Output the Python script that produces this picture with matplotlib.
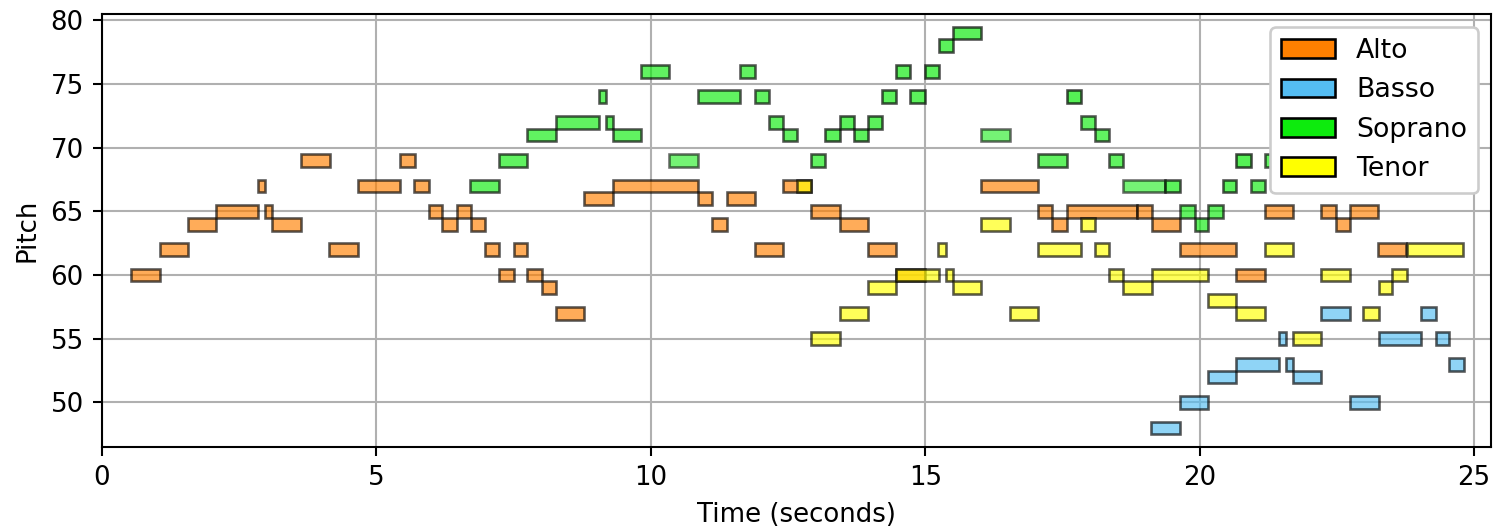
import matplotlib
matplotlib.use("Agg")
import matplotlib.pyplot as plt
import matplotlib.patches as patches

# ---------------- data (start, end in seconds; MIDI pitch; velocity->alpha) -------------
alto_start = [0.52, 1.05, 1.57, 2.07, 2.85, 2.97, 3.10, 3.63, 4.14, 4.66, 5.43, 5.69, 5.95,
              6.20, 6.46, 6.72, 6.98, 7.24, 7.50, 7.75, 8.01, 8.27, 8.79, 9.31, 10.86, 11.11,
              11.38, 11.89, 12.41, 12.92, 13.44, 13.95, 14.47, 16.02, 17.05, 17.31, 17.58,
              18.86, 19.13, 19.64, 20.66, 21.19, 22.21, 22.48, 22.74, 23.25]
alto_end = [1.05, 1.57, 2.07, 2.85, 2.97, 3.10, 3.63, 4.15, 4.66, 5.43, 5.70, 5.95, 6.20,
            6.46, 6.72, 6.98, 7.24, 7.50, 7.75, 8.01, 8.27, 8.79, 9.31, 10.86, 11.11, 11.38,
            11.89, 12.41, 12.92, 13.44, 13.95, 14.47, 14.99, 17.05, 17.31, 17.58, 18.86,
            19.13, 19.64, 20.66, 21.19, 21.71, 22.48, 22.74, 23.25, 23.76]
alto_pitch = [60, 62, 64, 65, 67, 65, 64, 69, 62, 67, 69, 67, 65,
              64, 65, 64, 62, 60, 62, 60, 59, 57, 66, 67, 66, 64,
              66, 62, 67, 65, 64, 62, 60, 67, 65, 64, 65,
              65, 64, 62, 60, 65, 65, 64, 65, 62]
alto_vel = [0.65] * len(alto_start)

basso_start = [19.12, 19.64, 20.16, 20.66, 21.45, 21.58, 21.71, 22.22, 22.74, 23.26, 24.04,
               24.30, 24.55]
basso_end = [19.64, 20.16, 20.66, 21.45, 21.58, 21.71, 22.22, 22.74, 23.26, 24.04, 24.30,
             24.55, 24.81]
basso_pitch = [48, 50, 52, 53, 55, 53, 52, 57, 50, 55, 57, 55, 53]
basso_vel = [0.65] * len(basso_start)

soprano_start = [6.71, 7.24, 7.75, 8.27, 9.05, 9.18, 9.31, 9.82, 10.34, 10.86, 11.63, 11.89,
                 12.15, 12.41, 12.91, 13.17, 13.44, 13.70, 13.95, 14.21, 14.47, 14.73, 14.99,
                 15.25, 15.51, 16.02, 17.05, 17.58, 17.84, 18.09, 18.35, 18.61, 19.37, 19.64,
                 19.91, 20.16, 20.42, 20.67, 20.94, 21.20]
soprano_end = [7.24, 7.75, 8.27, 9.05, 9.18, 9.31, 9.82, 10.34, 10.86, 11.63, 11.89, 12.15,
               12.41, 12.67, 13.17, 13.44, 13.70, 13.95, 14.21, 14.47, 14.73, 14.99, 15.25,
               15.51, 16.02, 16.55, 17.58, 17.84, 18.09, 18.35, 18.61, 19.37, 19.64, 19.91,
               20.16, 20.42, 20.67, 20.94, 21.20, 21.71]
soprano_pitch = [67, 69, 71, 72, 74, 72, 71, 76, 69, 74, 76, 74,
                 72, 71, 69, 71, 72, 71, 72, 74, 76, 74, 76,
                 78, 79, 71, 69, 74, 72, 71, 69, 67, 67, 65,
                 64, 65, 67, 69, 67, 69]
soprano_vel = [0.65, 0.65, 0.65, 0.65, 0.65, 0.65, 0.65, 0.65, 0.57, 0.65, 0.65, 0.65,
               0.65, 0.65, 0.65, 0.68, 0.68, 0.68, 0.68, 0.68, 0.68, 0.68, 0.68,
               0.68, 0.68, 0.57, 0.65, 0.7, 0.65, 0.65, 0.65, 0.57, 0.68, 0.65,
               0.65, 0.65, 0.68, 0.7, 0.65, 0.65]

tenor_start = [12.66, 12.92, 13.45, 13.95, 14.47, 15.24, 15.38, 15.51, 16.02, 16.54, 17.06,
               17.83, 18.09, 18.35, 18.61, 19.13, 20.16, 20.66, 21.19, 21.71, 22.22, 22.98,
               23.26, 23.51, 23.77]
tenor_end = [12.92, 13.45, 13.95, 14.47, 15.25, 15.38, 15.51, 16.02, 16.54, 17.06, 17.83,
             18.09, 18.35, 18.61, 19.13, 20.16, 20.66, 21.19, 21.71, 22.22, 22.74, 23.26,
             23.51, 23.77, 24.80]
tenor_pitch = [67, 55, 57, 59, 60, 62, 60, 59, 64, 57, 62,
               64, 62, 60, 59, 60, 58, 57, 62, 55, 60, 57,
               59, 60, 62]
tenor_vel = [0.65] * len(tenor_start)

voice_labels = ["Alto", "Basso", "Soprano", "Tenor"]
voice_colors = {"Alto": (1.0, 0.5, 0.0), "Basso": (0.33, 0.74, 0.95),
                "Soprano": (0.05, 0.92, 0.05), "Tenor": (1.0, 1.0, 0.0)}

voices = {
    "Alto": (alto_start, alto_end, alto_pitch, alto_vel),
    "Basso": (basso_start, basso_end, basso_pitch, basso_vel),
    "Soprano": (soprano_start, soprano_end, soprano_pitch, soprano_vel),
    "Tenor": (tenor_start, tenor_end, tenor_pitch, tenor_vel),
}

# ---------------- figure -------------
DPI = 187
fig = plt.figure(figsize=(1493 / DPI, 529 / DPI), dpi=DPI)
ax = fig.add_axes([0.0683, 0.155, 0.9304, 0.8185])

all_p, all_end = [], []
for name in voice_labels:
    st, en, pi, ve = voices[name]
    for s, e, p, v in zip(st, en, pi, ve):
        ax.add_patch(patches.Rectangle((s, p - 0.5), e - s, 1, linewidth=1,
                                       edgecolor="k", facecolor=voice_colors[name], alpha=v))
    all_p += pi
    all_end += en

ax.set_ylim(min(all_p) - 1.5, max(all_p) + 1.5)
ax.set_xlim(0, max(all_end) + 0.5)
ax.set_xlabel("Time (seconds)")
ax.set_ylabel("Pitch")
ax.grid()
ax.set_axisbelow(True)
ax.legend([patches.Patch(linewidth=1, edgecolor="k", facecolor=voice_colors[k]) for k in voice_labels],
          voice_labels, loc="upper right", framealpha=1, prop={"size": 10.3})

fig.savefig("out.png", dpi=DPI)
